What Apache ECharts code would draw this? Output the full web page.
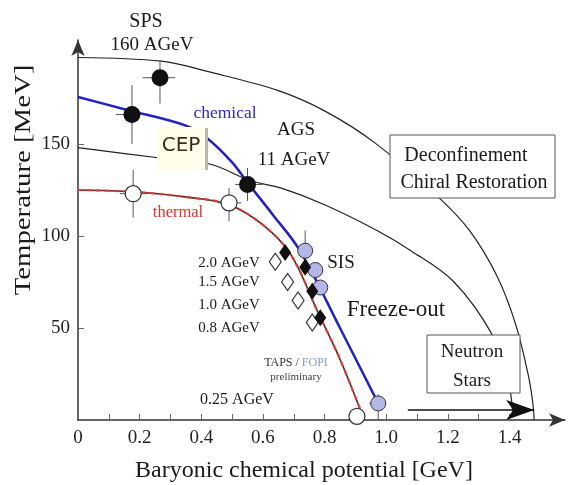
<!DOCTYPE html>
<html>
<head>
<meta charset="utf-8">
<script src="https://cdn.jsdelivr.net/npm/echarts@6/dist/echarts.min.js"></script>
<style>
  html, body { margin: 0; padding: 0; background: #fff; }
  #chart { width: 571px; height: 485px; }
</style>
</head>
<body>
<div id="chart"></div>
<script>
  // curves, [mu (GeV), T (MeV)]
  const outerLine = [[0, 197], [0.27, 195], [0.43, 189], [0.65, 179], [0.8, 168], [0.96, 151], [1.17, 121], [1.27, 103], [1.36, 78], [1.42, 52], [1.46, 25], [1.475, 10], [1.48, 0]]
  const innerLine = [[0, 148], [0.26, 142.5], [0.43, 139], [0.56, 130], [0.66, 126], [0.8, 117], [0.97, 103], [1.08, 92], [1.22, 75], [1.345, 46], [1.395, 22], [1.41, 5]]
  const chemicalLine = [[0, 175.5], [0.16, 168.5], [0.35, 160], [0.42, 153], [0.5, 140], [0.55, 129], [0.63, 112], [0.72, 92], [0.85, 50], [0.974, 9]]
  const thermalLine = [[0, 125], [0.18, 124], [0.36, 121], [0.49, 117], [0.6, 106], [0.69, 90], [0.78, 58], [0.85, 33], [0.915, 6]]
  const neutronArrow = [[1.07, 5.4], [1.48, 5.4]]

  // data points
  const chemPoints = [[0.175, 166], [0.266, 186], [0.55, 128]]
  const thermPoints = [[0.179, 123], [0.49, 118], [0.905, 2]]
  const sisPoints = [[0.737, 92], [0.77, 81.5], [0.786, 72], [0.974, 9]]
  const filledDiamonds = [[0.672, 91], [0.737, 83], [0.76, 70], [0.786, 55.5]]
  const openDiamonds = [[0.64, 86], [0.68, 75], [0.714, 65], [0.76, 53]]
  // [mu, T, muLow, muHigh, tLow, tHigh]
  const errorBars = [
    [0.175, 166, 0.123, 0.21, 150, 182],
    [0.266, 186, 0.21, 0.315, 172, 195],
    [0.55, 128, 0.51, 0.6, 119, 137],
    [0.179, 123, 0.136, 0.227, 110, 136],
    [0.49, 118, 0.455, 0.53, 108, 126],
    [0.737, 92, 0.72, 0.755, 86, 103],
    [0.77, 81.5, 0.75, 0.79, 78, 85],
    [0.786, 72, 0.765, 0.805, 68, 76],
    [0.974, 9, 0.945, 1.0, 0, 14],
    [0.905, 2, 0.88, 0.93, 0, 6]
  ]

  const xTicks = [0.1, 0.2, 0.3, 0.4, 0.5, 0.6, 0.7, 0.8, 0.9, 1.0, 1.1, 1.2, 1.3, 1.4]
  const xLabels = [0, 0.2, 0.4, 0.6, 0.8, 1.0, 1.2, 1.4]
  const yLabels = [50, 100, 150]

  const serif = 'Liberation Serif'

  function txt(text, x, y, size, color, family) {
    return {
      type: 'text',
      z: 110,
      style: {
        text: text,
        x: x,
        y: y,
        fill: color || '#1a1a1a',
        fontSize: size,
        fontFamily: family || serif,
        align: 'center',
        verticalAlign: 'middle',
        textAlign: 'center',
        textVerticalAlign: 'middle'
      }
    }
  }

  function box(x, y, w, h, fill, stroke) {
    return {
      type: 'rect',
      z: 100,
      shape: { x: x, y: y, width: w, height: h },
      style: { fill: fill, stroke: stroke, lineWidth: 1 }
    }
  }

  const chart = echarts.init(document.getElementById('chart'))

  chart.setOption({
    animation: false,
    grid: { left: 78, right: 6, top: 40, bottom: 65 },
    xAxis: {
      type: 'value',
      min: 0,
      max: 1.58,
      splitLine: { show: false },
      axisLine: {
        symbol: ['none', 'arrow'],
        symbolSize: [10, 16],
        lineStyle: { color: '#333', width: 1.5 }
      },
      axisTick: { inside: true, length: 6, customValues: xTicks, lineStyle: { color: '#666' } },
      axisLabel: {
        customValues: xLabels,
        formatter: v => v === 0 ? '0' : v.toFixed(1),
        fontFamily: serif,
        fontSize: 19,
        color: '#222',
        margin: 9
      }
    },
    yAxis: {
      type: 'value',
      min: 0,
      max: 206.5,
      splitLine: { show: false },
      axisLine: {
        symbol: ['none', 'arrow'],
        symbolSize: [10, 16],
        lineStyle: { color: '#333', width: 1.5 }
      },
      axisTick: { inside: true, length: 6, customValues: yLabels, lineStyle: { color: '#666' } },
      axisLabel: {
        customValues: yLabels,
        fontFamily: serif,
        fontSize: 19,
        color: '#222',
        margin: 8
      }
    },
    graphic: [
      // boxes that sit on top of the curves
      box(157, 127, 51, 43, '#fffcea', null),
      { type: 'rect', z: 101, shape: { x: 205, y: 128, width: 3, height: 42 }, style: { fill: '#b8b8b0' } },
      box(390, 135, 165, 63, '#fff', '#555'),
      box(427, 335, 93, 58, '#fff', '#555'),
      txt('CEP', 181, 146, 20, '#3c2a18', 'DejaVu Sans'),
      txt('SPS', 146, 22, 20),
      txt('160 AGeV', 152, 45, 19),
      txt('chemical', 225, 113, 17.5, '#2a2acc'),
      txt('AGS', 296, 130, 19),
      txt('11 AGeV', 294, 160, 19),
      txt('thermal', 178, 213, 16.5, '#e03030'),
      txt('Deconfinement', 466, 156, 20),
      txt('Chiral Restoration', 474, 183, 20),
      txt('SIS', 341, 263, 19),
      txt('Freeze-out', 396, 310, 23),
      txt('Neutron', 472, 352, 19),
      txt('Stars', 472, 381, 19),
      txt('2.0 AGeV', 229, 263, 15),
      txt('1.5 AGeV', 229, 282, 15),
      txt('1.0 AGeV', 229, 305, 15),
      txt('0.8 AGeV', 229, 328, 15),
      txt('0.25 AGeV', 237, 400, 16),
      {
        type: 'text', z: 110,
        style: {
          rich: {
            a: { fontSize: 12, fontFamily: serif, fill: '#333', color: '#333' },
            b: { fontSize: 12, fontFamily: serif, fill: '#8aa0b8', color: '#8aa0b8' }
          },
          text: '{a|TAPS / }{b|FOPI}',
          x: 296, y: 363,
          align: 'center', verticalAlign: 'middle', textAlign: 'center', textVerticalAlign: 'middle'
        }
      },
      txt('preliminary', 296, 377, 11, '#444'),
      txt('Baryonic chemical potential [GeV]', 304, 471, 24),
      {
        type: 'text', z: 110,
        rotation: Math.PI / 2,
        x: 24, y: 180,
        scaleX: 1.2,
        style: {
          text: 'Temperature [MeV]',
          x: 0, y: 0,
          fill: '#1a1a1a',
          fontSize: 24,
          fontFamily: serif,
          align: 'center', verticalAlign: 'middle', textAlign: 'center', textVerticalAlign: 'middle'
        }
      }
    ],
    series: [
      {
        type: 'line', data: outerLine, smooth: 0.35, symbol: 'none', z: 2,
        lineStyle: { color: '#222', width: 1.2 }
      },
      {
        type: 'line', data: innerLine, smooth: 0.35, symbol: 'none', z: 2,
        lineStyle: { color: '#222', width: 1.2 }
      },
      {
        type: 'line', data: chemicalLine, smooth: 0.35, symbol: 'none', z: 3,
        lineStyle: { color: '#2222c4', width: 2.5 }
      },
      {
        type: 'line', data: thermalLine, smooth: 0.35, symbol: 'none', z: 3,
        lineStyle: { color: '#4a2a18', width: 1.6 }
      },
      {
        type: 'line', data: thermalLine, smooth: 0.35, symbol: 'none', z: 3,
        lineStyle: { color: '#e03a3a', width: 2.2, type: [5, 4] }
      },
      {
        type: 'line', data: [], symbol: 'none', z: 3,
        markLine: {
          silent: true,
          symbol: ['none', 'arrow'],
          symbolSize: [15, 28],
          label: { show: false },
          lineStyle: { color: '#111', width: 1.5, type: 'solid' },
          data: [[{ coord: neutronArrow[0] }, { coord: neutronArrow[1] }]]
        }
      },
      {
        type: 'custom', data: errorBars, z: 4,
        renderItem(params, api) {
          const l = api.coord([api.value(2), api.value(1)])
          const r = api.coord([api.value(3), api.value(1)])
          const b = api.coord([api.value(0), api.value(4)])
          const t = api.coord([api.value(0), api.value(5)])
          return {
            type: 'group',
            children: [
              { type: 'line', shape: { x1: l[0], y1: l[1], x2: r[0], y2: r[1] }, style: { stroke: '#555', lineWidth: 1 } },
              { type: 'line', shape: { x1: b[0], y1: b[1], x2: t[0], y2: t[1] }, style: { stroke: '#555', lineWidth: 1 } }
            ]
          }
        }
      },
      {
        type: 'scatter', data: chemPoints, symbol: 'circle', symbolSize: 17, z: 5,
        itemStyle: { color: '#111', opacity: 1 }
      },
      {
        type: 'scatter', data: thermPoints, symbol: 'circle', symbolSize: 16, z: 5,
        itemStyle: { color: '#fff', borderColor: '#333', borderWidth: 1.2, opacity: 1 }
      },
      {
        type: 'scatter', data: sisPoints, symbol: 'circle', symbolSize: 15, z: 5,
        itemStyle: { color: '#b4b8e8', borderColor: '#333', borderWidth: 1, opacity: 1 }
      },
      {
        type: 'scatter', data: openDiamonds, symbol: 'diamond', symbolSize: [12, 17], z: 5,
        itemStyle: { color: '#fff', borderColor: '#333', borderWidth: 1.2, opacity: 1 }
      },
      {
        type: 'scatter', data: filledDiamonds, symbol: 'diamond', symbolSize: [12, 17], z: 6,
        itemStyle: { color: '#111', opacity: 1 }
      }
    ]
  })
</script>
</body>
</html>
